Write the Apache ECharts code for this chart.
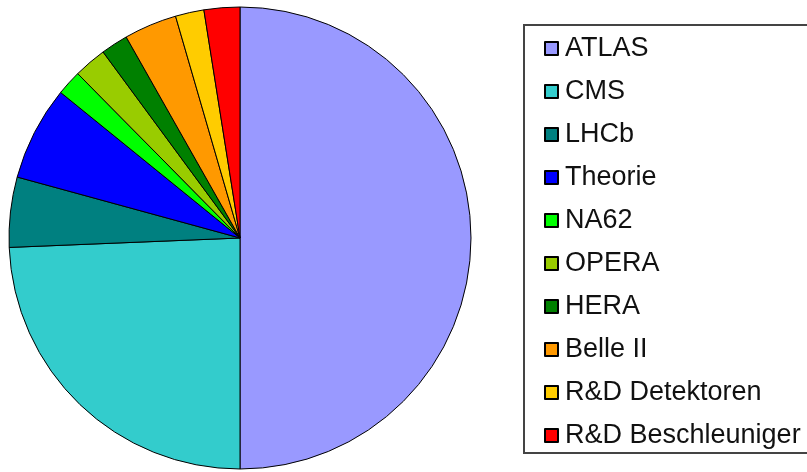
<!DOCTYPE html>
<html>
<head>
<meta charset="utf-8">
<script src="https://cdn.jsdelivr.net/npm/echarts@6/dist/echarts.min.js"></script>
<style>
  html, body { margin: 0; padding: 0; background: #fff; }
  #chart { width: 807px; height: 472px; }
</style>
</head>
<body>
<div id="chart"></div>
<script>
// Anteile in Prozent, aus dem Bild geschätzt
const names = ['ATLAS', 'CMS', 'LHCb', 'Theorie', 'NA62', 'OPERA', 'HERA', 'Belle II', 'R&D Detektoren', 'R&D Beschleuniger'];
const shares = [50, 24.35, 4.9, 6.6, 1.75, 2.3, 1.9, 3.7, 2.0, 2.5];
const colors = ['#9999ff', '#33cccc', '#008080', '#0000ff', '#00ff00', '#99cc00', '#008000', '#ff9900', '#ffcc00', '#ff0000'];

const chart = echarts.init(document.getElementById('chart'));

chart.setOption({
  animation: false,
  color: colors,
  legend: {
    orient: 'vertical',
    left: 539,
    top: 30,
    itemWidth: 13,
    itemHeight: 13,
    itemGap: 16,
    icon: 'rect',
    selectedMode: false,
    textStyle: { fontFamily: 'Liberation Sans, Arial, sans-serif', fontSize: 27, lineHeight: 27, color: '#111', padding: [0, 0, 0, 2] },
    data: names
  },
  graphic: [{
    type: 'rect',
    shape: { x: 524, y: 25, width: 290, height: 428 },
    style: { fill: 'none', stroke: '#444', lineWidth: 2 },
    z: -1
  }],
  series: [{
    type: 'pie',
    center: [240, 238],
    radius: 231,
    startAngle: 90,
    clockwise: true,
    label: { show: false },
    labelLine: { show: false },
    emphasis: { disabled: true },
    itemStyle: { borderColor: '#000', borderWidth: 1 },
    data: names.map((n, i) => ({ name: n, value: shares[i] }))
  }]
});
</script>
</body>
</html>
